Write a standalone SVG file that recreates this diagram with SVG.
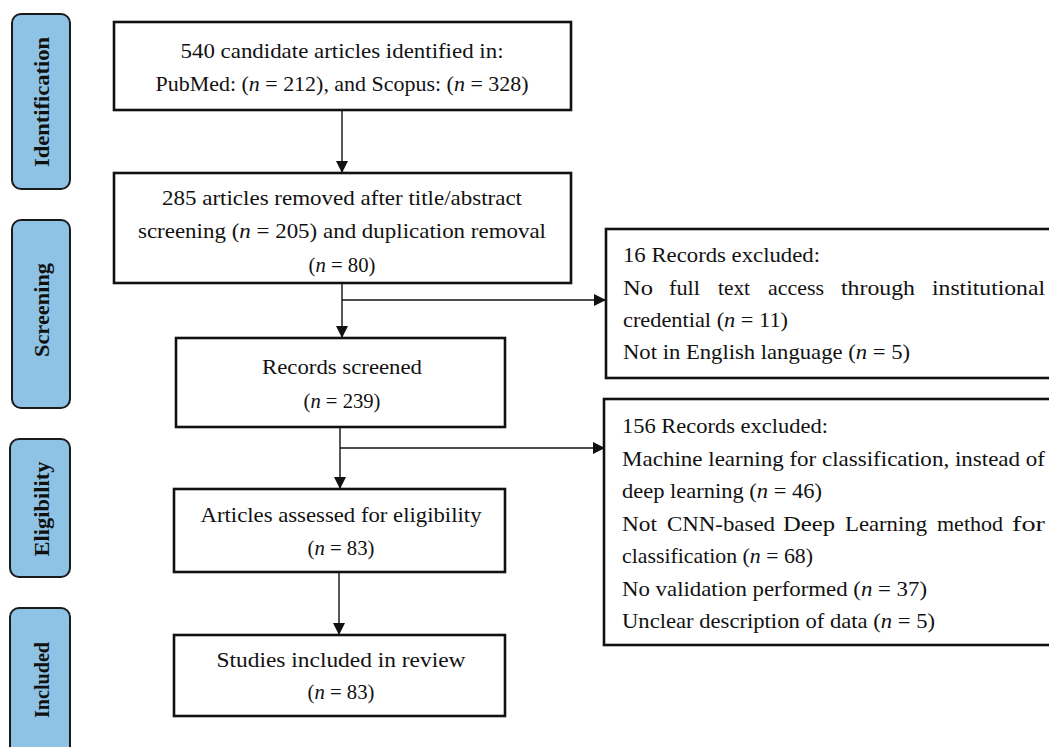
<svg xmlns="http://www.w3.org/2000/svg" width="1049" height="747" viewBox="0 0 1049 747">
<style>
.box{fill:#fff;stroke:#111;stroke-width:2.6}
.side{fill:#8EC3E6;stroke:#1a1a1a;stroke-width:2}
.t{font-family:"Liberation Serif","Times New Roman",serif;font-size:22px;fill:#111}
.c{text-anchor:middle}
.s{font-family:"Liberation Serif","Times New Roman",serif;font-size:21px;font-weight:bold;fill:#111;text-anchor:middle}
.i{font-style:italic}
.ln{stroke:#111;stroke-width:1.4;fill:none}
</style>
<defs>
<marker id="ah" markerWidth="12" markerHeight="12" viewBox="0 0 12 12" refX="12" refY="6" orient="auto" markerUnits="userSpaceOnUse">
<path d="M0,0 L12,6 L0,12 Z" fill="#111"/>
</marker>
</defs>
<rect width="1049" height="747" fill="#fff"/>

<g id="phase-identification">
<rect class="side" x="12" y="14" width="58" height="175" rx="9"/>
<text class="s" transform="translate(49,102) rotate(-90)" textLength="130" lengthAdjust="spacingAndGlyphs">Identification</text>
</g>
<g id="phase-screening">
<rect class="side" x="12" y="220" width="58" height="188" rx="9"/>
<text class="s" transform="translate(49,310) rotate(-90)" textLength="94" lengthAdjust="spacingAndGlyphs">Screening</text>
</g>
<g id="phase-eligibility">
<rect class="side" x="10" y="439" width="60" height="138" rx="9"/>
<text class="s" transform="translate(49,509) rotate(-90)" textLength="95" lengthAdjust="spacingAndGlyphs">Eligibility</text>
</g>
<g id="phase-included">
<rect class="side" x="10" y="608" width="60" height="160" rx="9"/>
<text class="s" transform="translate(49,680) rotate(-90)" textLength="76" lengthAdjust="spacingAndGlyphs">Included</text>
</g>

<g id="connectors">
<line class="ln" x1="342" y1="110" x2="342" y2="173" marker-end="url(#ah)"/>
<line class="ln" x1="342" y1="283" x2="342" y2="338" marker-end="url(#ah)"/>
<line class="ln" x1="342" y1="300" x2="606" y2="300" marker-end="url(#ah)"/>
<line class="ln" x1="340" y1="427" x2="340" y2="489" marker-end="url(#ah)"/>
<line class="ln" x1="340" y1="448" x2="605" y2="448" marker-end="url(#ah)"/>
<line class="ln" x1="339" y1="572" x2="339" y2="635" marker-end="url(#ah)"/>
</g>

<g id="identified">
<rect class="box" x="114" y="22" width="457" height="88"/>
<text class="t c" x="342" y="58" textLength="323" lengthAdjust="spacingAndGlyphs">540 candidate articles identified in:</text>
<text class="t c" x="342" y="91" textLength="373" lengthAdjust="spacingAndGlyphs">PubMed: (<tspan class="i">n</tspan> = 212), and Scopus: (<tspan class="i">n</tspan> = 328)</text>
</g>

<g id="removed">
<rect class="box" x="114" y="173" width="457" height="110"/>
<text class="t c" x="342" y="205" textLength="360" lengthAdjust="spacingAndGlyphs">285 articles removed after title/abstract</text>
<text class="t c" x="342" y="238" textLength="408" lengthAdjust="spacingAndGlyphs">screening (<tspan class="i">n</tspan> = 205) and duplication removal</text>
<text class="t c" x="342" y="272" textLength="67" lengthAdjust="spacingAndGlyphs">(<tspan class="i">n</tspan> = 80)</text>
</g>

<g id="screened">
<rect class="box" x="176" y="338" width="329" height="89"/>
<text class="t c" x="342" y="374" textLength="160" lengthAdjust="spacingAndGlyphs">Records screened</text>
<text class="t c" x="342" y="408" textLength="77" lengthAdjust="spacingAndGlyphs">(<tspan class="i">n</tspan> = 239)</text>
</g>

<g id="eligibility">
<rect class="box" x="174" y="489" width="331" height="83"/>
<text class="t c" x="341" y="522" textLength="281" lengthAdjust="spacingAndGlyphs">Articles assessed for eligibility</text>
<text class="t c" x="341" y="555" textLength="67" lengthAdjust="spacingAndGlyphs">(<tspan class="i">n</tspan> = 83)</text>
</g>

<g id="included">
<rect class="box" x="174" y="635" width="331" height="81"/>
<text class="t c" x="341" y="667" textLength="249" lengthAdjust="spacingAndGlyphs">Studies included in review</text>
<text class="t c" x="341" y="699" textLength="67" lengthAdjust="spacingAndGlyphs">(<tspan class="i">n</tspan> = 83)</text>
</g>

<g id="excluded-16">
<rect class="box" x="606" y="229" width="460" height="149"/>
<text class="t" x="623" y="262" textLength="197" lengthAdjust="spacingAndGlyphs">16 Records excluded:</text>
<text class="t" x="623" y="295" textLength="30" lengthAdjust="spacingAndGlyphs">No</text>
<text class="t" x="669" y="295" textLength="31" lengthAdjust="spacingAndGlyphs">full</text>
<text class="t" x="718" y="295" textLength="32" lengthAdjust="spacingAndGlyphs">text</text>
<text class="t" x="768" y="295" textLength="56" lengthAdjust="spacingAndGlyphs">access</text>
<text class="t" x="841" y="295" textLength="74" lengthAdjust="spacingAndGlyphs">through</text>
<text class="t" x="932" y="295" textLength="113" lengthAdjust="spacingAndGlyphs">institutional</text>
<text class="t" x="623" y="327" textLength="165" lengthAdjust="spacingAndGlyphs">credential (<tspan class="i">n</tspan> = 11)</text>
<text class="t" x="623" y="359" textLength="287" lengthAdjust="spacingAndGlyphs">Not in English language (<tspan class="i">n</tspan> = 5)</text>
</g>

<g id="excluded-156">
<rect class="box" x="604" y="399" width="462" height="246"/>
<text class="t" x="622" y="433" textLength="206" lengthAdjust="spacingAndGlyphs">156 Records excluded:</text>
<text class="t" x="622" y="466" textLength="423" lengthAdjust="spacingAndGlyphs">Machine learning for classification, instead of</text>
<text class="t" x="622" y="498" textLength="200" lengthAdjust="spacingAndGlyphs">deep learning (<tspan class="i">n</tspan> = 46)</text>
<text class="t" x="622" y="531" textLength="35" lengthAdjust="spacingAndGlyphs">Not</text>
<text class="t" x="667" y="531" textLength="108" lengthAdjust="spacingAndGlyphs">CNN-based</text>
<text class="t" x="783" y="531" textLength="52" lengthAdjust="spacingAndGlyphs">Deep</text>
<text class="t" x="845" y="531" textLength="82" lengthAdjust="spacingAndGlyphs">Learning</text>
<text class="t" x="937" y="531" textLength="66" lengthAdjust="spacingAndGlyphs">method</text>
<text class="t" x="1012" y="531" textLength="33" lengthAdjust="spacingAndGlyphs">for</text>
<text class="t" x="622" y="563" textLength="191" lengthAdjust="spacingAndGlyphs">classification (<tspan class="i">n</tspan> = 68)</text>
<text class="t" x="622" y="596" textLength="305" lengthAdjust="spacingAndGlyphs">No validation performed (<tspan class="i">n</tspan> = 37)</text>
<text class="t" x="622" y="628" textLength="313" lengthAdjust="spacingAndGlyphs">Unclear description of data (<tspan class="i">n</tspan> = 5)</text>
</g>
</svg>
